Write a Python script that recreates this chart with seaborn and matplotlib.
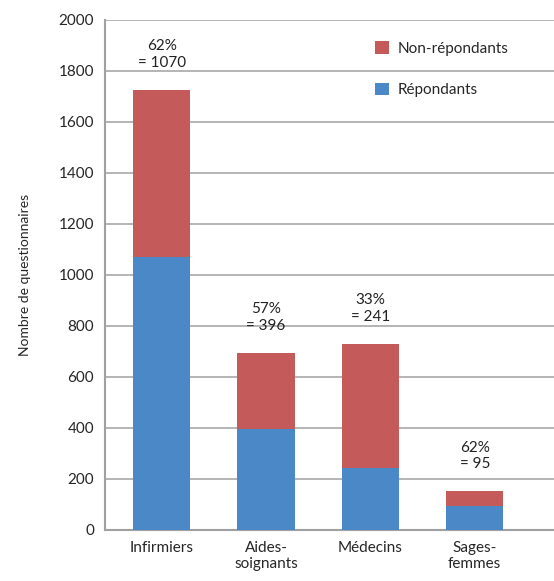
import matplotlib
matplotlib.use("Agg")
import matplotlib.pyplot as plt
import seaborn as sns
import pandas as pd

# Donnees
categories = ["Infirmiers", "Aides-\nsoignants", "Médecins", "Sages-\nfemmes"]
repondants = [1070, 396, 241, 95]
totaux = [1726, 695, 730, 153]
pourcentages = ["62%", "57%", "33%", "62%"]

df = pd.DataFrame({"categorie": categories, "repondants": repondants, "total": totaux})

sns.set_style("white")
plt.rcParams["font.family"] = ["Lato", "DejaVu Sans"]

fig = plt.figure(figsize=(5.54, 5.81), dpi=100)
ax = fig.add_axes([0.19, 0.088, 0.81, 0.878])

rouge = "#C55A5A"
bleu = "#4A88C8"

sns.barplot(data=df, x="categorie", y="total", color=rouge, width=0.55,
            saturation=1, linewidth=0, label="Non-répondants", ax=ax, zorder=3)
sns.barplot(data=df, x="categorie", y="repondants", color=bleu, width=0.55,
            saturation=1, linewidth=0, label="Répondants", ax=ax, zorder=3)

# annotations au-dessus des barres
for i, (p, r, t) in enumerate(zip(pourcentages, repondants, totaux)):
    ax.annotate(f"{p}\n= {r}", xy=(i, t), xytext=(0, 14), textcoords="offset points",
                ha="center", va="bottom", fontsize=11, linespacing=1.25, color="#222222")

ax.set_ylim(0, 2000)
ax.set_xlim(-0.54, 3.76)
ax.set_yticks(range(0, 2001, 200))
ax.yaxis.grid(True, color="#a8a8a8", linewidth=1.2, zorder=0)
ax.set_axisbelow(True)
ax.tick_params(axis="both", length=0, labelsize=11, pad=8)
ax.set_xlabel("")
ax.set_ylabel("Nombre de questionnaires", fontsize=10, labelpad=20)

for s in ["top", "right"]:
    ax.spines[s].set_visible(False)
for s in ["left", "bottom"]:
    ax.spines[s].set_color("#a0a0a0")
    ax.spines[s].set_linewidth(1.5)

leg = ax.legend(loc="upper left", bbox_to_anchor=(0.57, 0.985), frameon=False,
                fontsize=11, handlelength=0.9, handleheight=0.9,
                labelspacing=1.75, handletextpad=0.6)

fig.savefig("out.png", dpi=100)
